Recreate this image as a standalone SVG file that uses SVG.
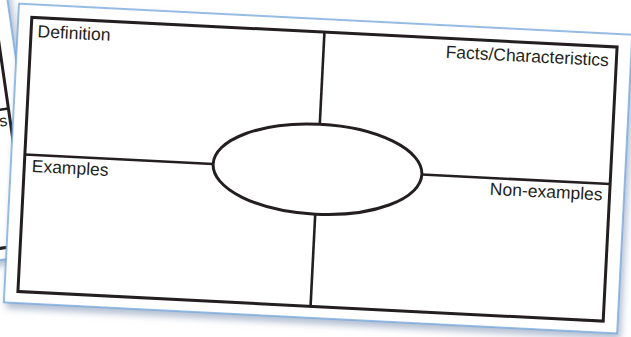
<svg xmlns="http://www.w3.org/2000/svg" width="631" height="337" viewBox="0 0 631 337">
  <defs>
    <filter id="shadow" x="-10%" y="-10%" width="125%" height="130%">
      <feDropShadow dx="3" dy="5" stdDeviation="3.5" flood-color="#6f87ab" flood-opacity="0.55"/>
    </filter>
  </defs>
  <style>
    .paper { fill: #ffffff; stroke: #74a7dc; stroke-width: 1.5; }
    .frame { fill: none; stroke: #231f20; stroke-width: 3; }
    .line { stroke: #231f20; stroke-width: 2.6; fill: none; }
    .oval { fill: #ffffff; stroke: #231f20; stroke-width: 3; }
    .label { font-family: "Liberation Sans", Arial, sans-serif; font-size: 17.5px; fill: #231f20; }
  </style>
  <rect width="631" height="337" fill="#ffffff"/>

  <!-- back card, mostly hidden -->
  <g id="back-card" transform="translate(8.4,108.5) rotate(-8.2) translate(-610.5,-169.25)">
    <rect class="paper" x="11" y="19" width="614" height="299" filter="url(#shadow)"/>
    <rect class="frame" x="24.5" y="32" width="586" height="274.5"/>
    <line class="line" x1="24.5" y1="169.25" x2="610.5" y2="169.25"/>
    <text class="label" x="607.5" y="186" text-anchor="end" style="font-size:16px">s</text>
  </g>

  <!-- front card -->
  <g id="card" transform="rotate(2.9 317.5 169.25)">
    <rect class="paper" x="11" y="19" width="614" height="299" filter="url(#shadow)"/>
    <rect class="frame" x="24.5" y="32" width="586" height="274.5"/>
    <g id="connectors">
      <line class="line" x1="317.5" y1="32" x2="317.5" y2="124.25"/>
      <line class="line" x1="317.5" y1="214.25" x2="317.5" y2="306.5"/>
      <line class="line" x1="24.5" y1="169.25" x2="213" y2="169.25"/>
      <line class="line" x1="422" y1="169.25" x2="610.5" y2="169.25"/>
    </g>
    <g id="center-oval">
      <ellipse class="oval" cx="317.5" cy="169.25" rx="104.5" ry="45"/>
    </g>
    <g id="definition">
      <text class="label" x="31" y="51.5">Definition</text>
    </g>
    <g id="facts">
      <text class="label" x="603" y="51.5" text-anchor="end">Facts/Characteristics</text>
    </g>
    <g id="examples">
      <text class="label" x="32" y="186.5">Examples</text>
    </g>
    <g id="non-examples">
      <text class="label" x="603.5" y="186" text-anchor="end">Non-examples</text>
    </g>
  </g>
</svg>
